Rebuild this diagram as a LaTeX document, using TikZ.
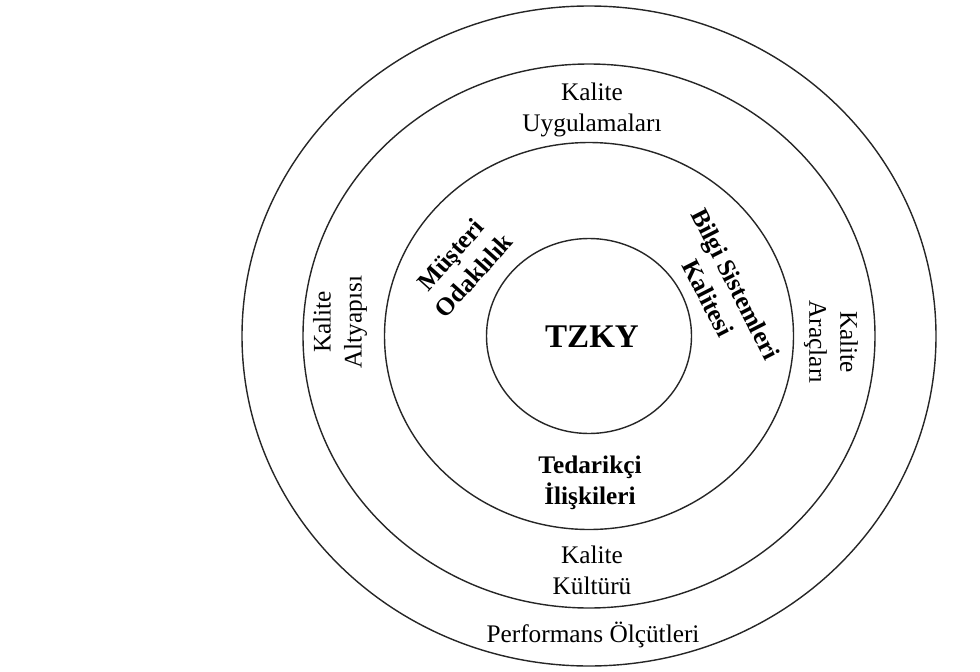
\documentclass[tikz,border=0pt]{standalone}
\usepackage{fontspec}
\setmainfont{Liberation Serif}
\usepackage{tikz}
\usetikzlibrary{positioning}

\tikzset{
  ring/.style={line width=1pt, black!85},
  lbl/.style={font=\fontsize{18}{22}\selectfont, align=center, inner sep=0pt},
  blbl/.style={lbl, font=\fontsize{18}{22}\selectfont\bfseries},
}

\begin{document}
\begin{tikzpicture}[x=0.025cm, y=-0.025cm]
  \useasboundingbox (0,0) rectangle (980,671);
  \coordinate (c) at (589,336);

  % Rings
  \draw[ring] (c) ellipse [x radius=347, y radius=330];
  \draw[ring] (c) ellipse [x radius=286, y radius=272];
  \draw[ring] (c) ellipse [x radius=204.5, y radius=193.5];
  \draw[ring] (c) ellipse [x radius=102.5, y radius=97.5];

  % Core
  \node[font=\fontsize{23.5}{28}\selectfont\bfseries, anchor=base, inner sep=0pt] (tzky) at (592,347) {TZKY};

  % Inner ring
  \node[blbl, rotate=48] (musteri) at (462,265) {Müşteri\\Odaklılık};
  \node[blbl, rotate=-63] (bilgi) at (722,291) {Bilgi Sistemleri\\Kalitesi};
  \node[blbl] (tedarik) at (590,483) {Tedarikçi\\İlişkileri};

  % Middle ring
  \node[lbl] (uygulama) at (592,110) {Kalite\\Uygulamaları};
  \node[lbl, rotate=90] (altyapi) at (340,322) {Kalite\\Altyapısı};
  \node[lbl, rotate=-90] (arac) at (831,342) {Kalite\\Araçları};
  \node[lbl] (kultur) at (592,570) {Kalite\\Kültürü};

  % Outer ring
  \node[lbl, anchor=base] (perf) at (593,642) {Performans Ölçütleri};
\end{tikzpicture}
\end{document}
